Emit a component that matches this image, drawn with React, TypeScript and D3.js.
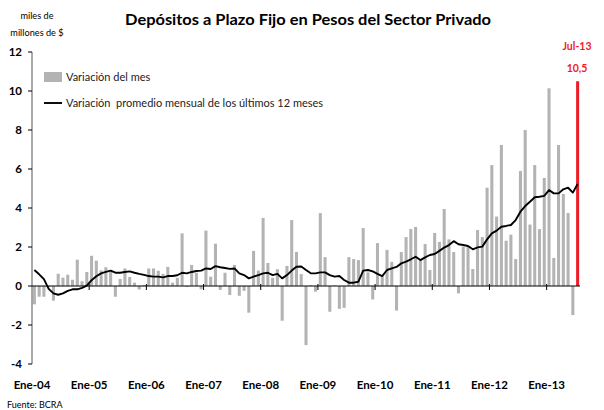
import React from "react";
import * as d3 from "d3";

const W = 604;
const H = 410;

// Monthly categories Jan-2004 .. Jul-2013
const MONTHS_ES = ["Ene", "Feb", "Mar", "Abr", "May", "Jun", "Jul", "Ago", "Sep", "Oct", "Nov", "Dic"];
const months: string[] = d3
  .timeMonth.range(new Date(2004, 0, 1), new Date(2013, 7, 1))
  .map((d) => `${MONTHS_ES[d.getMonth()]}-${String(d.getFullYear()).slice(2)}`);

// Variación del mes (miles de millones de $)
const monthly: number[] = [
  -0.94, -0.55, -0.55, -0.05, -0.75, 0.63, 0.43, 0.58, 0.32, 1.35, 0.24, 0.72,
  1.55, 1.3, 0.8, 0.96, 0.74, -0.55, 0.36, 0.9, 0.46, 0.17, -0.18, 0.05,
  0.9, 0.9, 0.78, 0.62, 0.98, 0.17, 0.42, 2.7, -0.05, 1.08, 0.68, -0.17,
  2.84, 0.48, 2.17, -0.2, 0.68, -0.46, 1.08, -0.5, -0.25, -1.37, 1.8, 0.79,
  3.49, 1.18, 0.42, 0.86, -1.78, 1.03, 3.38, 1.75, 0.61, -3.03, 0.04, -0.29,
  3.74, 1.48, -1.32, 0.03, -1.17, -1.12, 1.48, 1.38, 1.33, 2.97, 0.7, -0.69,
  2.2, 0.49, 1.85, 1.24, -1.26, 1.74, 2.51, 2.92, 3.03, 1.37, 2.15, 0.82,
  2.72, 2.26, 3.95, 2.39, 1.74, -0.38, 2.02, 2.02, 0.87, 2.87, 2.51, 5.04,
  6.2, 3.56, 7.23, 2.32, 2.63, 1.38, 5.9, 8.0, 3.15, 6.2, 2.92, 5.54,
  10.14, 1.44, 7.23, 4.72, 3.74, -1.49, 10.5,
];

// Variación promedio mensual de los últimos 12 meses
const avg12: number[] = [
  0.82, 0.6, 0.35, -0.15, -0.38, -0.45, -0.38, -0.25, -0.17, -0.17, -0.1, 0.02,
  0.3, 0.5, 0.65, 0.72, 0.79, 0.68, 0.68, 0.72, 0.75, 0.68, 0.62, 0.57,
  0.51, 0.48, 0.48, 0.44, 0.51, 0.51, 0.55, 0.68, 0.65, 0.72, 0.77, 0.79,
  0.9, 0.87, 1.02, 0.96, 0.92, 0.88, 0.9, 0.65, 0.56, 0.39, 0.48, 0.56,
  0.65, 0.68, 0.56, 0.62, 0.39, 0.56, 0.79, 0.99, 1.0, 0.82, 0.65, 0.65,
  0.7, 0.7, 0.56, 0.48, 0.51, 0.31, 0.17, 0.17, 0.22, 0.79, 0.82, 0.75,
  0.62, 0.51, 0.82, 0.9, 0.98, 1.16, 1.25, 1.37, 1.5, 1.33, 1.47, 1.59,
  1.64, 1.8, 1.97, 2.1, 2.3, 2.14, 2.1, 2.05, 1.88, 1.98, 2.02, 2.39,
  2.7, 2.84, 3.04, 3.08, 3.13, 3.38, 3.81, 4.1, 4.32, 4.55, 4.58, 4.62,
  4.92, 4.75, 4.75, 4.96, 5.04, 4.79, 5.23,
];

const yTicks: number[] = [-4, -2, 0, 2, 4, 6, 8, 10, 12];
const yearLabels: string[] = ["Ene-04", "Ene-05", "Ene-06", "Ene-07", "Ene-08", "Ene-09", "Ene-10", "Ene-11", "Ene-12", "Ene-13"];

const FONT = "Lato, 'Open Sans', sans-serif";

export default function App() {
  const left = 32;
  const right = 580;
  const x = d3.scaleBand<string>().domain(months).range([left, right]).padding(0);
  const y = d3.scaleLinear().domain([-4, 12]).range([364, 52]);
  const bw = x.bandwidth();
  const barW = bw * 0.64;
  const lastIdx = months.length - 1;

  const line = d3
    .line<number>()
    .x((_, i) => (x(months[i]) as number) + bw / 2)
    .y((d) => y(d))
    .curve(d3.curveLinear);

  return (
    <svg width={W} height={H} style={{ position: "absolute", left: 0, top: 0, background: "#fff" }} fontFamily={FONT}>
      <rect x={0} y={0} width={W} height={H} fill="#fff" />
      {/* Title */}
      <text x={125} y={25} fontSize={14.5} fontWeight={700} fill="#000" textLength={366} lengthAdjust="spacingAndGlyphs">
        Depósitos a Plazo Fijo en Pesos del Sector Privado
      </text>
      <text x={37} y={19} textAnchor="middle" fontSize={9.2} fill="#000">miles de</text>
      <text x={37} y={36} textAnchor="middle" fontSize={9.2} fill="#000">millones de $</text>

      {/* Bars */}
      {monthly.map((v, i) => {
        const isLast = i === lastIdx;
        const cx = (x(months[i]) as number) + bw / 2;
        const w = isLast ? 3 : barW;
        return (
          <rect
            key={i}
            x={cx - w / 2}
            y={Math.min(y(v), y(0))}
            width={w}
            height={Math.abs(y(v) - y(0))}
            fill={isLast ? "#ee1c25" : "#b3b3b3"}
          />
        );
      })}

      {/* Y axis */}
      <line x1={left} x2={left} y1={y(12)} y2={y(-4)} stroke="#555" strokeWidth={1} />
      {yTicks.map((t) => (
        <g key={t}>
          <line x1={left - 4} x2={left} y1={y(t)} y2={y(t)} stroke="#000" strokeWidth={1} />
          <text x={22} y={y(t) + 4} textAnchor="end" fontSize={11.5} fontWeight={700} fill="#000">
            {t}
          </text>
        </g>
      ))}

      {/* X axis */}
      <line x1={left} x2={right} y1={y(0)} y2={y(0)} stroke="#000" strokeWidth={1} />
      {yearLabels.map((lab, k) => {
        const xi = x(months[k * 12]) as number;
        return (
          <g key={lab}>
            {k > 0 && <line x1={xi} x2={xi} y1={y(0) - 2} y2={y(0) + 4} stroke="#000" strokeWidth={1} />}
            <text x={xi} y={389} textAnchor="middle" fontSize={11.5} fontWeight={700} fill="#000">
              {lab}
            </text>
          </g>
        );
      })}

      {/* 12-month average line */}
      <path d={line(avg12) || ""} fill="none" stroke="#000" strokeWidth={1.9} strokeLinejoin="round" />

      {/* Legend */}
      <rect x={44} y={72} width={18} height={10} fill="#b3b3b3" />
      <text x={66} y={81} fontSize={11} fill="#222">Variación del mes</text>
      <line x1={44} x2={62} y1={103} y2={103} stroke="#000" strokeWidth={1.9} />
      <text x={66} y={107} fontSize={11} fill="#222" xmlSpace="preserve">Variación  promedio mensual de los últimos 12 meses</text>

      {/* Red annotation */}
      <text x={577} y={50} textAnchor="middle" fontSize={10.5} fontWeight={700} fill="#ee1c25">Jul-13</text>
      <text x={577} y={72} textAnchor="middle" fontSize={10.5} fontWeight={700} fill="#ee1c25">10,5</text>

      <text x={7} y={408} fontSize={9} fill="#000">Fuente: BCRA</text>
    </svg>
  );
}
